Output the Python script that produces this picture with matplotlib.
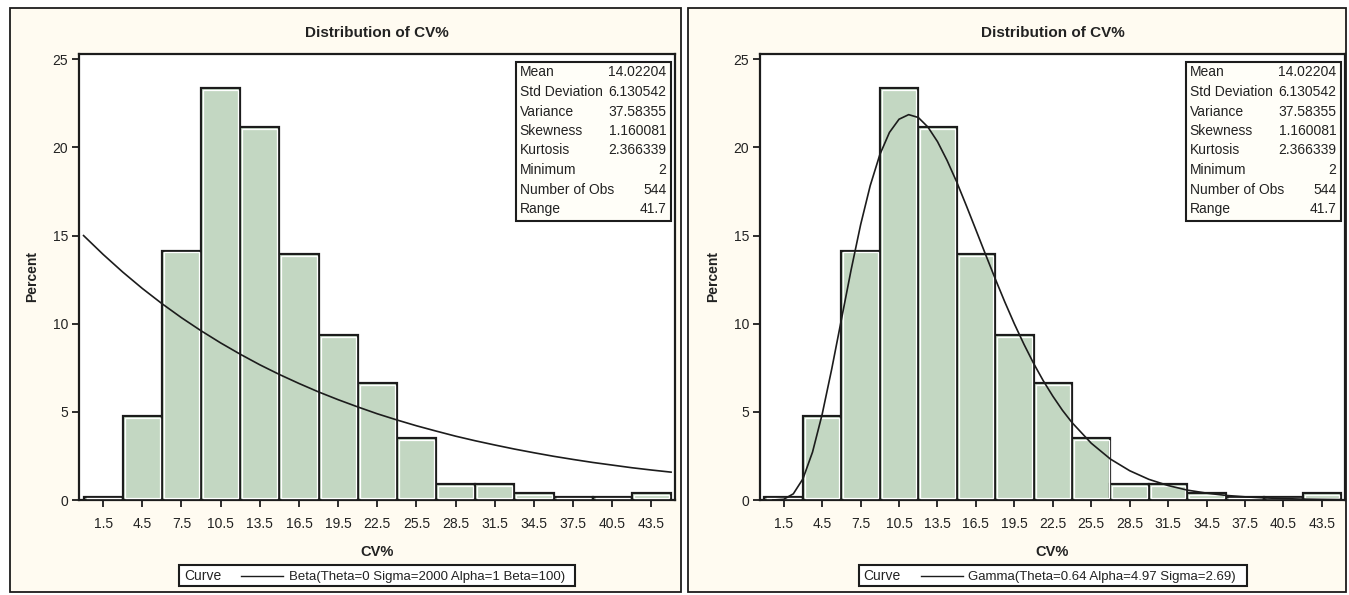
import matplotlib
matplotlib.use("Agg")
import matplotlib.pyplot as plt
from matplotlib.patches import Rectangle
from matplotlib.lines import Line2D

# ---------------- data ----------------
bin_centers = [1.5, 4.5, 7.5, 10.5, 13.5, 16.5, 19.5, 22.5, 25.5, 28.5, 31.5, 34.5, 37.5, 40.5, 43.5]
percents = [0.18, 4.78, 14.15, 23.35, 21.14, 13.97, 9.38, 6.62, 3.49, 0.92, 0.92, 0.37, 0.18, 0.18, 0.37]
bin_width = 3.0
xtick_labels = ["1.5", "4.5", "7.5", "10.5", "13.5", "16.5", "19.5", "22.5", "25.5",
                "28.5", "31.5", "34.5", "37.5", "40.5", "43.5"]
yticks = [0, 5, 10, 15, 20, 25]

# fitted curve (left): Beta(Theta=0 Sigma=2000 Alpha=1 Beta=100)
beta_x = [0, 1.5, 3, 4.5, 6, 7.5, 9, 10.5, 12, 13.5, 15, 16.5, 18, 19.5, 21, 22.5,
          24, 25.5, 27, 28.5, 30, 31.5, 33, 34.5, 36, 37.5, 39, 40.5, 42, 43.5, 45]
beta_y = [15.00, 13.93, 12.93, 12.00, 11.14, 10.34, 9.60, 8.91, 8.27, 7.67, 7.12, 6.61,
          6.13, 5.69, 5.28, 4.89, 4.54, 4.21, 3.91, 3.62, 3.36, 3.12, 2.89, 2.68, 2.48,
          2.30, 2.13, 1.98, 1.83, 1.70, 1.58]

# fitted curve (right): Gamma(Theta=0.64 Alpha=4.97 Sigma=2.69)
gamma_x = [0.64, 1.5, 2.25, 3, 3.75, 4.5, 5.25, 6, 6.75, 7.5, 8.25, 9, 9.75, 10.5, 11.25,
           12, 12.75, 13.5, 14.25, 15, 15.75, 16.5, 17.25, 18, 18.75, 19.5, 20.25, 21,
           21.75, 22.5, 23.25, 24, 25.5, 27, 28.5, 30, 31.5, 33, 34.5, 36, 37.5, 39,
           40.5, 42, 43.5, 45]
gamma_y = [0.0, 0.04, 0.35, 1.20, 2.72, 4.86, 7.44, 10.23, 13.02, 15.61, 17.83, 19.59,
           20.85, 21.60, 21.86, 21.70, 21.16, 20.33, 19.26, 18.04, 16.70, 15.32, 13.93,
           12.56, 11.24, 9.99, 8.83, 7.75, 6.77, 5.89, 5.09, 4.39, 3.22, 2.32, 1.66,
           1.17, 0.82, 0.56, 0.39, 0.26, 0.18, 0.12, 0.08, 0.05, 0.035, 0.023]

stat_names = ["Mean", "Std Deviation", "Variance", "Skewness", "Kurtosis",
              "Minimum", "Number of Obs", "Range"]
stat_values = ["14.02204", "6.130542", "37.58355", "1.160081", "2.366339", "2", "544", "41.7"]

title = "Distribution of CV%"
xlabel = "CV%"
ylabel = "Percent"
legend_labels = ["Beta(Theta=0 Sigma=2000 Alpha=1 Beta=100)",
                 "Gamma(Theta=0.64 Alpha=4.97 Sigma=2.69)"]

# ---------------- style ----------------
W, H = 1349, 595
FONT = ["Liberation Sans Narrow", "Liberation Sans", "DejaVu Sans"]
plt.rcParams["font.family"] = FONT
BAR_FC = "#C3D7C2"
DARK = "#1c1c1c"
TXT = "#222222"
PANEL_BG = "#FFFBF1"

fig = plt.figure(figsize=(W / 100, H / 100), dpi=100)
fig.patch.set_facecolor("white")


def fx(x):
    return x / W


def fy(y):
    return 1 - y / H


panels = [
    dict(frame=(10, 8, 681, 592), ax=(79, 54, 675, 500), curve=(beta_x, beta_y),
         leg=legend_labels[0], leg_w=396),
    dict(frame=(688, 8, 1346, 592), ax=(760, 54, 1345, 500), curve=(gamma_x, gamma_y),
         leg=legend_labels[1], leg_w=388),
]

for p in panels:
    x0, y0, x1, y1 = p["frame"]
    fig.patches.append(Rectangle((fx(x0), fy(y1)), fx(x1 - x0), (y1 - y0) / H,
                                 transform=fig.transFigure, facecolor=PANEL_BG,
                                 edgecolor=DARK, linewidth=1.3, zorder=-5))

    a0, b0, a1, b1 = p["ax"]
    ax = fig.add_axes([fx(a0), fy(b1), fx(a1 - a0), (b1 - b0) / H])
    ax.set_zorder(1)
    ax.set_facecolor("white")
    ax.set_xlim(-0.35, 45.3)
    ax.set_ylim(0, 25.3)

    # bars
    ax.bar(bin_centers, percents, width=bin_width, color=BAR_FC, edgecolor=DARK,
           linewidth=1.6, zorder=2)
    # inner white outline (SAS style)
    inner_h = [max(v - 0.22, 0) for v in percents]
    ax.bar(bin_centers, inner_h, width=bin_width - 0.3, bottom=0.11, color="none",
           edgecolor="white", linewidth=0.9, zorder=3)

    cx, cy = p["curve"]
    ax.plot(cx, cy, color=DARK, linewidth=1.2, zorder=4)

    ax.set_xticks(bin_centers)
    ax.set_xticklabels(xtick_labels)
    ax.set_yticks(yticks)
    ax.set_yticklabels([str(v) for v in yticks])
    ax.tick_params(axis="both", direction="out", length=5, width=1.3, color=DARK,
                   labelsize=10, labelcolor=TXT, pad=3)
    ax.tick_params(axis="x", pad=7)
    for s in ax.spines.values():
        s.set_linewidth(1.6)
        s.set_color(DARK)

    # title, labels
    fig.text(fx((a0 + a1) / 2), fy(33), title, ha="center", va="center",
             fontsize=11, fontweight="bold", color=TXT)
    fig.text(fx((a0 + a1) / 2), fy(552), xlabel, ha="center", va="center",
             fontsize=10.5, fontweight="bold", color=TXT)
    fig.text(fx(a0 - 47), fy((b0 + b1) / 2), ylabel, ha="center", va="center",
             rotation=90, fontsize=10, fontweight="bold", color=TXT)

    # stats box
    bx1 = a1 - 4.5
    bx0 = bx1 - 155
    by0 = b0 + 8
    by1 = by0 + 159
    fig.patches.append(Rectangle((fx(bx0), fy(by1)), fx(bx1 - bx0), (by1 - by0) / H,
                                 transform=fig.transFigure, facecolor="#FFFEF8",
                                 edgecolor=DARK, linewidth=1.5, zorder=5))
    for i, (n, v) in enumerate(zip(stat_names, stat_values)):
        ty = by0 + 14.5 + i * 19.5
        fig.text(fx(bx0 + 4), fy(ty), n, ha="left", va="baseline", fontsize=10,
                 color=TXT, zorder=6)
        fig.text(fx(bx1 - 4), fy(ty), v, ha="right", va="baseline", fontsize=10,
                 color=TXT, zorder=6)

    # curve legend box
    lw = p["leg_w"]
    lx0 = (a0 + a1) / 2 - lw / 2
    ly0, ly1 = 565, 586
    fig.patches.append(Rectangle((fx(lx0), fy(ly1)), fx(lw), (ly1 - ly0) / H,
                                 transform=fig.transFigure, facecolor="white",
                                 edgecolor=DARK, linewidth=1.5, zorder=5))
    lyc = (ly0 + ly1) / 2
    fig.text(fx(lx0 + 5), fy(lyc + 4.5), "Curve", ha="left", va="baseline", fontsize=10,
             color=TXT, zorder=6)
    fig.lines.append(Line2D([fx(lx0 + 62), fx(lx0 + 104)], [fy(lyc), fy(lyc)],
                            transform=fig.transFigure, color=DARK, linewidth=1.0,
                            zorder=6))
    fig.text(fx(lx0 + 110), fy(lyc + 4.5), p["leg"], ha="left", va="baseline",
             fontsize=9.5, color=TXT, zorder=6)

fig.savefig("out.png", dpi=100, facecolor="white")
